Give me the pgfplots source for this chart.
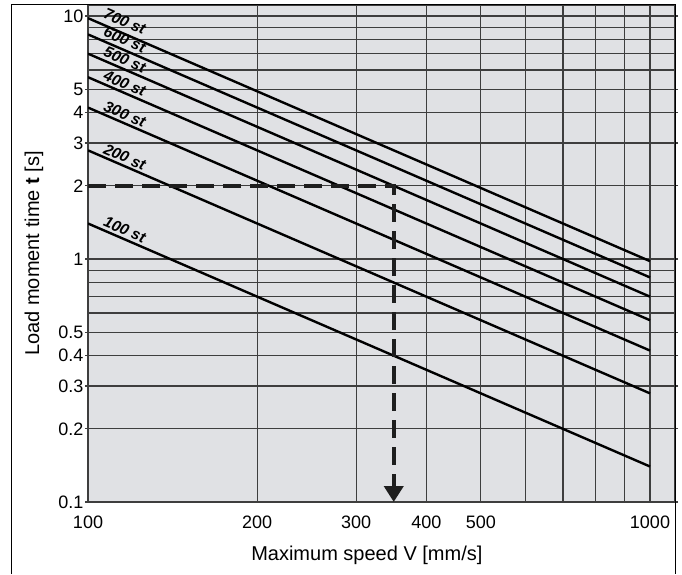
\documentclass[border=0pt]{standalone}
\usepackage{fontspec}
\setmainfont{Liberation Sans}
\usepackage{pgfplots}
\pgfplotsset{compat=1.18}
\usetikzlibrary{arrows.meta}
\definecolor{bg}{RGB}{224,225,228}
\definecolor{gridc}{RGB}{62,62,62}
\definecolor{dashc}{RGB}{30,30,30}
\begin{document}
\begin{tikzpicture}
\useasboundingbox (-88pt,-72pt) rectangle (594pt,502pt);
\begin{axis}[
 at={(0pt,0pt)}, anchor=south west,
 scale only axis, width=587pt, height=497pt,
 xmode=log, ymode=log,
 xmin=100, xmax=1108, ymin=0.1, ymax=11.1,
 axis background/.style={fill=bg},
 axis line style={draw=gridc, line width=1.2pt},
 xtick={100,200,300,400,500,1000},
 xticklabels={100,200,300,400,500,1000},
 minor xtick={600,700,800,900},
 ytick={0.1,0.2,0.3,0.4,0.5,1,2,3,4,5,10},
 yticklabels={0.1,0.2,0.3,0.4,0.5,1,2,3,4,5,10},
 minor ytick={0.6,0.7,0.8,0.9,6,7,8,9},
 grid=both,
 major grid style={draw=gridc, line width=1.2pt},
 minor grid style={draw=gridc, line width=1.2pt},
 tick align=outside, major tick length=3pt, minor tick length=0pt,
 xtick style={draw=none},
 ytick style={draw=gridc, line width=1.2pt},
 ticklabel style={font=\fontsize{18}{20}\selectfont},
 xticklabel style={inner sep=0pt, yshift=-11pt},
 yticklabel style={inner sep=1.5pt},
 label style={font=\fontsize{20}{24}\selectfont},
 xlabel={Maximum speed V [mm/s]},
 ylabel={Load moment time \textbf{t} [s]},
 xlabel style={at={(axis description cs:0.475,-0.1167)}, anchor=base},
 ylabel style={at={(axis description cs:-0.092,0.5)}, anchor=center},
]
\addplot[black, line width=2.4pt] coordinates {(100,9.8) (1000,0.98)};
\addplot[black, line width=2.4pt] coordinates {(100,8.4) (1000,0.84)};
\addplot[black, line width=2.4pt] coordinates {(100,7.0) (1000,0.70)};
\addplot[black, line width=2.4pt] coordinates {(100,5.6) (1000,0.56)};
\addplot[black, line width=2.4pt] coordinates {(100,4.2) (1000,0.42)};
\addplot[black, line width=2.4pt] coordinates {(100,2.8) (1000,0.28)};
\addplot[black, line width=2.4pt] coordinates {(100,1.4) (1000,0.14)};
\addplot[draw=dashc, line width=4pt, dash pattern=on 18pt off 9pt,
  -{Triangle[width=19pt,length=16pt]}] coordinates {(100,2) (350,2) (350,0.1)};
\tikzset{stl/.style={rotate=-23.4, inner sep=0pt, font=\fontsize{15.5}{18}\selectfont\bfseries\itshape}}
\node[stl] at (axis cs:116.3,9.50) {700 st};
\node[stl] at (axis cs:116.3,8.00) {600 st};
\node[stl] at (axis cs:116.3,6.62) {500 st};
\node[stl] at (axis cs:116.3,5.28) {400 st};
\node[stl] at (axis cs:116.3,3.95) {300 st};
\node[stl] at (axis cs:116.3,2.63) {200 st};
\node[stl] at (axis cs:116.3,1.32) {100 st};
\end{axis}
\draw[black, line width=1pt] (-76pt,-72pt) -- (-76pt,497pt) -- (587pt,497pt) -- (587pt,-72pt);
\node[anchor=base west, inner sep=0pt, font=\fontsize{22}{26}\selectfont\bfseries] at (-28.5pt,506pt) {p};
\end{tikzpicture}
\end{document}
